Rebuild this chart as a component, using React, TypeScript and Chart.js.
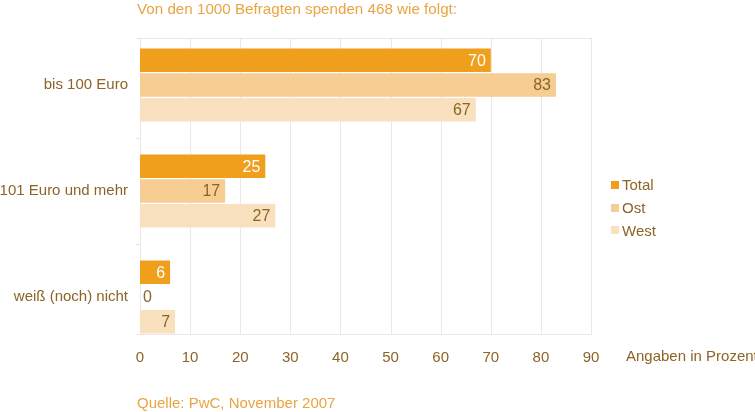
import React, { useEffect, useRef } from "react";
import { Chart, registerables } from "chart.js";

Chart.register(...registerables);

const categories = ["bis 100 Euro", "101 Euro und mehr", "weiß (noch) nicht"];
const seriesNames = ["Total", "Ost", "West"];
const totalValues = [70, 25, 6];
const ostValues = [83, 17, 0];
const westValues = [67, 27, 7];
const xMin = 0;
const xMax = 90;
const xStep = 10;
const titleText = "Von den 1000 Befragten spenden 468 wie folgt:";
const sourceText = "Quelle: PwC, November 2007";
const axisCaption = "Angaben in Prozent";

const FONT = "'Liberation Sans', Arial, Helvetica, sans-serif";
const BROWN = "#8c6427";
const ORANGE_TEXT = "#e9a443";
const GRID = "#ece8e1";
const COLORS = ["#f09f1c", "#f6cd93", "#f9e0be"];
const LABEL_COLORS = ["#ffffff", BROWN, BROWN];

const decorPlugin = {
  id: "decor",
  beforeDatasetsDraw(chart: any) {
    const { ctx, chartArea: a, scales } = chart;
    const x = scales.x;
    const top = a.top + 6;
    const bottom = a.bottom - 16;
    ctx.save();
    ctx.strokeStyle = GRID;
    ctx.lineWidth = 1;
    x.ticks.forEach((t: any) => {
      const px = Math.round(x.getPixelForValue(t.value)) + 0.5;
      ctx.beginPath();
      ctx.moveTo(px, top);
      ctx.lineTo(px, bottom);
      ctx.stroke();
    });
    [top, bottom].forEach((yy) => {
      ctx.beginPath();
      ctx.moveTo(a.left - 4, Math.round(yy) + 0.5);
      ctx.lineTo(a.right + 1, Math.round(yy) + 0.5);
      ctx.stroke();
    });
    ctx.restore();
  },
  afterDatasetsDraw(chart: any) {
    const { ctx } = chart;
    ctx.save();
    ctx.font = `16px ${FONT}`;
    ctx.textBaseline = "middle";
    chart.data.datasets.forEach((ds: any, di: number) => {
      const meta = chart.getDatasetMeta(di);
      meta.data.forEach((el: any, i: number) => {
        const v = ds.data[i];
        const txt = String(v);
        const w = ctx.measureText(txt).width;
        const barW = el.x - el.base;
        ctx.fillStyle = LABEL_COLORS[di];
        if (barW > w + 8) {
          ctx.textAlign = "right";
          ctx.fillText(txt, el.x - 5, el.y + 1);
        } else {
          ctx.fillStyle = BROWN;
          ctx.textAlign = "left";
          ctx.fillText(txt, el.base + 3, el.y + 1);
        }
      });
    });
    ctx.restore();
  },
  afterDraw(chart: any) {
    const { ctx, chartArea: a } = chart;
    ctx.save();
    ctx.textBaseline = "middle";
    ctx.textAlign = "left";
    ctx.fillStyle = ORANGE_TEXT;
    ctx.font = `15.2px ${FONT}`;
    ctx.fillText(titleText, 137, 10);
    ctx.font = `15px ${FONT}`;
    ctx.fillText(sourceText, 137, 404);
    ctx.fillStyle = BROWN;
    ctx.fillText(axisCaption, a.right + 35, 357);
    // legend
    chart.data.datasets.forEach((ds: any, i: number) => {
      const cy = 185 + i * 22.7;
      ctx.fillStyle = ds.backgroundColor;
      ctx.fillRect(a.right + 20, Math.round(cy - 4), 8, 8);
      ctx.fillStyle = BROWN;
      ctx.fillText(ds.label, a.right + 31, cy + 1);
    });
    ctx.restore();
  },
};

export default function App() {
  const ref = useRef<HTMLCanvasElement>(null);
  useEffect(() => {
    if (!ref.current) return;
    const chart = new Chart(ref.current, {
      type: "bar",
      data: {
        labels: categories,
        datasets: [
          { label: seriesNames[0], data: totalValues, backgroundColor: COLORS[0] },
          { label: seriesNames[1], data: ostValues, backgroundColor: COLORS[1] },
          { label: seriesNames[2], data: westValues, backgroundColor: COLORS[2] },
        ],
      },
      options: {
        indexAxis: "y",
        responsive: false,
        animation: false,
        devicePixelRatio: 1,
        layout: { padding: { top: 32, right: 164, bottom: 0, left: 0 } },
        datasets: { bar: { categoryPercentage: 0.7, barPercentage: 0.95 } },
        plugins: { legend: { display: false }, tooltip: { enabled: false }, title: { display: false } },
        scales: {
          x: {
            type: "linear",
            min: xMin,
            max: xMax,
            ticks: { stepSize: xStep, color: BROWN, padding: 0, font: { family: FONT, size: 15, lineHeight: 1 } },
            grid: { display: false, drawTicks: false },
            border: { display: false },
            afterFit: (s: any) => { s.height = 62; },
          },
          y: {
            type: "category",
            offset: true,
            ticks: { color: BROWN, padding: 8, font: { family: FONT, size: 15 } },
            grid: {
              offset: true,
              drawOnChartArea: false,
              drawTicks: true,
              tickLength: 4,
              color: GRID,
              tickColor: (c: any) => (typeof c.index === "number" && c.index >= 1 ? GRID : "rgba(0,0,0,0)"),
            },
            border: { display: false },
            afterFit: (s: any) => { s.width = 140; },
          },
        },
      },
      plugins: [decorPlugin],
    });
    return () => chart.destroy();
  }, []);
  return (
    <div style={{ position: "absolute", left: 0, top: 0, width: 755, height: 412, background: "#fff" }}>
      <canvas ref={ref} width={755} height={412} style={{ display: "block" }} />
    </div>
  );
}
